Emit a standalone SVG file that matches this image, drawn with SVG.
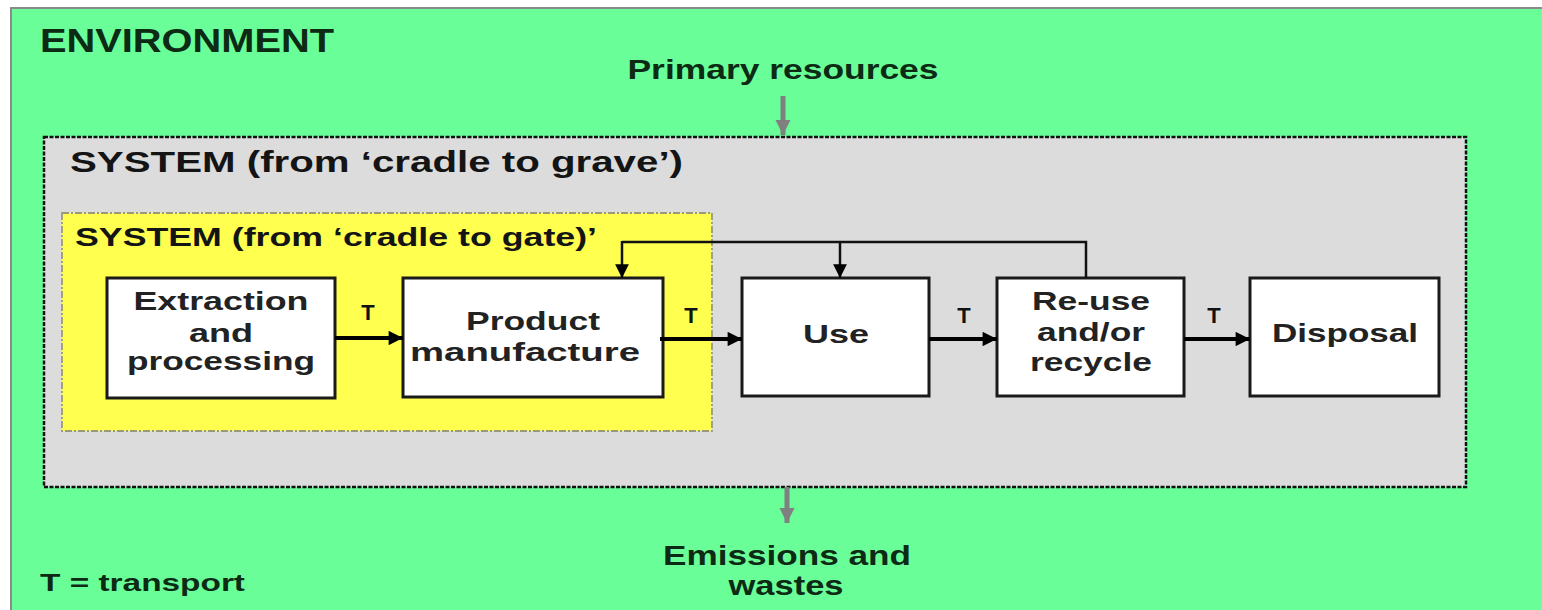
<svg xmlns="http://www.w3.org/2000/svg" width="1542" height="610" viewBox="0 0 1542 610">
  <defs>
    <marker id="ah" viewBox="0 0 10 10" refX="10" refY="5" markerWidth="5" markerHeight="3.6" markerUnits="strokeWidth" orient="auto">
      <path d="M0,0 L10,5 L0,10 z" fill="#000"/>
    </marker>
    <marker id="ahs" viewBox="0 0 10 10" refX="10" refY="5" markerWidth="5.5" markerHeight="5.5" markerUnits="strokeWidth" orient="auto">
      <path d="M0,0 L10,5 L0,10 z" fill="#000"/>
    </marker>
    <marker id="ahg" viewBox="0 0 10 10" refX="10" refY="5" markerWidth="3" markerHeight="3.2" markerUnits="strokeWidth" orient="auto">
      <path d="M0,0 L10,5 L0,10 z" fill="#808080"/>
    </marker>
  </defs>
  <style>
    text { font-family: "Liberation Sans", Arial, sans-serif; font-weight: bold; fill: #141414; }
    .env { fill: #0c2a14; }
    .box rect { fill: #ffffff; stroke: #1a1a1a; stroke-width: 3; }
    .box text { font-size: 25px; text-anchor: middle; fill: #222; }
    .t { font-size: 22px; text-anchor: middle; fill: #111; }
    .flow { fill: none; stroke: #000; stroke-width: 4; marker-end: url(#ah); }
    .fb { fill: none; stroke: #111; stroke-width: 2.5; }
    .fba { fill: none; stroke: #111; stroke-width: 2.5; marker-end: url(#ahs); }
    .gray { fill: none; stroke: #808080; stroke-width: 5; marker-end: url(#ahg); }
  </style>

  <!-- background -->
  <rect x="0" y="0" width="1542" height="610" fill="#ffffff"/>
  <g id="environment">
    <rect x="11" y="8" width="1535" height="610" fill="#69fe98" stroke="#8a8a8a" stroke-width="2"/>
    <text class="env" x="40" y="52" font-size="33" textLength="294" lengthAdjust="spacingAndGlyphs">ENVIRONMENT</text>
    <text class="env" x="783" y="79" font-size="27" text-anchor="middle" textLength="311" lengthAdjust="spacingAndGlyphs">Primary resources</text>
    <text class="env" x="787" y="565" font-size="27" text-anchor="middle" textLength="248" lengthAdjust="spacingAndGlyphs">Emissions and</text>
    <text class="env" x="786" y="595" font-size="27" text-anchor="middle" textLength="115" lengthAdjust="spacingAndGlyphs">wastes</text>
    <text class="env" x="40" y="591" font-size="23" textLength="205" lengthAdjust="spacingAndGlyphs">T = transport</text>
  </g>

  <g id="system-grave">
    <rect x="44" y="137" width="1422" height="350" fill="#dcdcdc" stroke="#111" stroke-width="2.5" stroke-dasharray="4,1.5"/>
    <text x="70" y="172" font-size="30" textLength="613" lengthAdjust="spacingAndGlyphs">SYSTEM (from ‘cradle to grave’)</text>
  </g>

  <g id="system-gate">
    <rect x="62" y="213" width="650" height="218" fill="#ffff4f" stroke="#9a9a7a" stroke-width="1.8" stroke-dasharray="7,2,2,2"/>
    <text x="75" y="246" font-size="26" textLength="522" lengthAdjust="spacingAndGlyphs">SYSTEM (from ‘cradle to gate)’</text>
  </g>

  <g id="extraction" class="box">
    <rect x="107" y="278" width="228" height="120"/>
    <text x="221" y="310" textLength="175" lengthAdjust="spacingAndGlyphs">Extraction</text>
    <text x="221" y="342" textLength="64" lengthAdjust="spacingAndGlyphs">and</text>
    <text x="221" y="370" textLength="188" lengthAdjust="spacingAndGlyphs">processing</text>
  </g>

  <g id="manufacture" class="box">
    <rect x="403" y="278" width="260" height="119"/>
    <text x="533" y="330" textLength="134" lengthAdjust="spacingAndGlyphs">Product</text>
    <text x="525" y="361" textLength="230" lengthAdjust="spacingAndGlyphs">manufacture</text>
  </g>

  <g id="use" class="box">
    <rect x="742" y="278" width="187" height="118"/>
    <text x="836" y="343" textLength="66" lengthAdjust="spacingAndGlyphs">Use</text>
  </g>

  <g id="reuse" class="box">
    <rect x="997" y="278" width="187" height="118"/>
    <text x="1091" y="310" textLength="118" lengthAdjust="spacingAndGlyphs">Re-use</text>
    <text x="1091" y="341" textLength="108" lengthAdjust="spacingAndGlyphs">and/or</text>
    <text x="1091" y="371" textLength="122" lengthAdjust="spacingAndGlyphs">recycle</text>
  </g>

  <g id="disposal" class="box">
    <rect x="1250" y="278" width="189" height="118"/>
    <text x="1345" y="342" textLength="146" lengthAdjust="spacingAndGlyphs">Disposal</text>
  </g>

  <g id="connectors">
    <line class="gray" x1="783" y1="96" x2="783" y2="135"/>
    <line class="gray" x1="787" y1="487" x2="787" y2="523"/>
    <line class="flow" x1="335" y1="338" x2="403" y2="338"/>
    <line class="flow" x1="660" y1="339" x2="742" y2="339"/>
    <line class="flow" x1="929" y1="339" x2="997" y2="339"/>
    <line class="flow" x1="1184" y1="339" x2="1250" y2="339"/>
    <polyline class="fb" points="1086,278 1086,242 622,242"/>
    <line class="fba" x1="622" y1="241" x2="622" y2="278"/>
    <line class="fba" x1="840" y1="242" x2="840" y2="278"/>
    <text class="t" x="368" y="320">T</text>
    <text class="t" x="691" y="323">T</text>
    <text class="t" x="964" y="323">T</text>
    <text class="t" x="1214" y="323">T</text>
  </g>
</svg>
